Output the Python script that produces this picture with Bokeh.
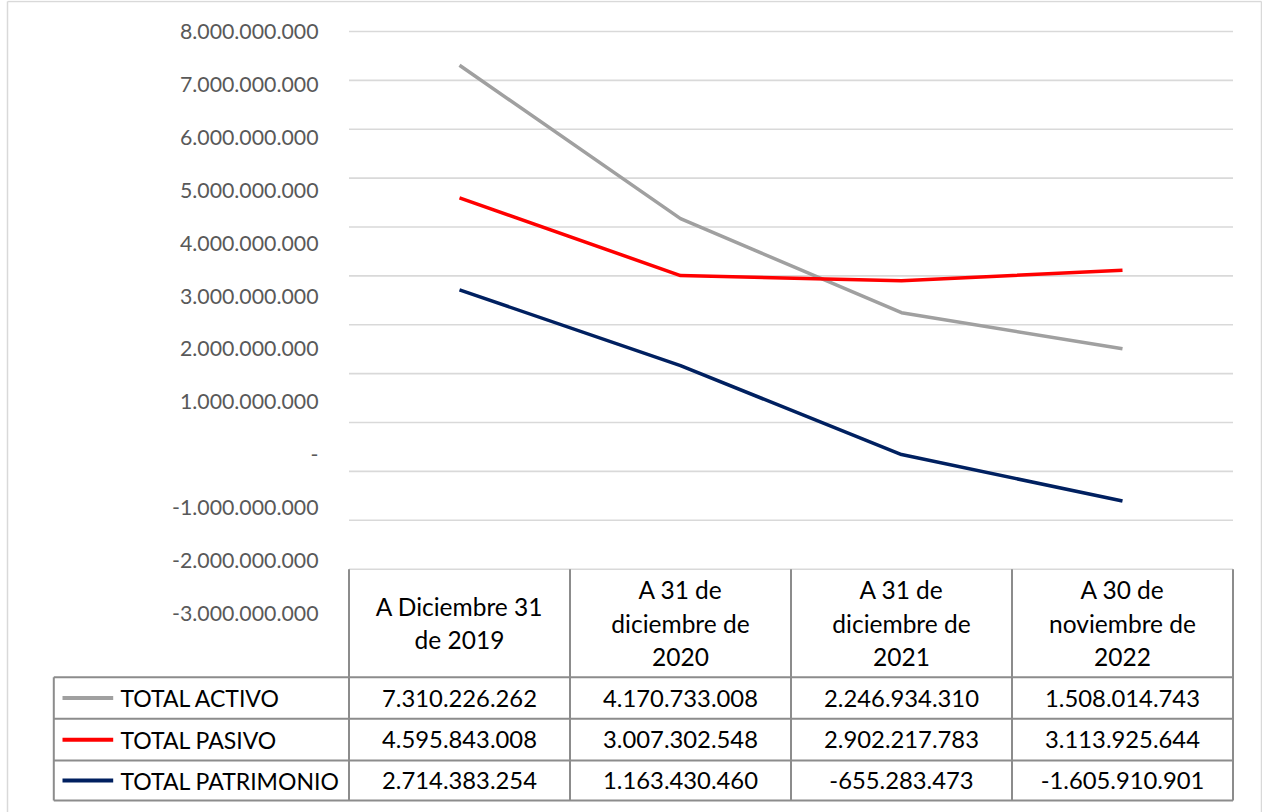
from bokeh.plotting import figure
from bokeh.models import Range1d
from bokeh.core.properties import value
from bokeh.embed import file_html
from bokeh.resources import INLINE

# ---------------- data ----------------
categories = [
    "A Diciembre 31\nde 2019",
    "A 31 de\ndiciembre de\n2020",
    "A 31 de\ndiciembre de\n2021",
    "A 30 de\nnoviembre de\n2022",
]
series_names = ["TOTAL ACTIVO", "TOTAL PASIVO", "TOTAL PATRIMONIO"]
total_activo = [7310226262, 4170733008, 2246934310, 1508014743]
total_pasivo = [4595843008, 3007302548, 2902217783, 3113925644]
total_patrimonio = [2714383254, 1163430460, -655283473, -1605910901]
y_ticks = [8e9, 7e9, 6e9, 5e9, 4e9, 3e9, 2e9, 1e9, 0, -1e9, -2e9, -3e9]
series_colors = ["#a0a0a0", "#ff0000", "#002060"]


def fmt(v):
    v = int(round(v))
    if v == 0:
        return "-"
    return "{:,}".format(v).replace(",", ".")


# ---------------- layout (page pixels) ----------------
W, H = 1262, 812
PX0, PY0 = 0, 0                      # page offset of the canvas
PLOT_L, COL_W = 348.5, 221.0         # plot area left edge and category width
GRID_TOP, GRID_STEP = 31.0, 48.88    # pixel of top tick, px per 1e9
LAB_TOP, LAB_STEP = 31.0, 52.9       # tick label positions
TAB_TOP = GRID_TOP + GRID_STEP * (len(y_ticks) - 1)
HEAD_BOT = 676.7
ROW_B = [HEAD_BOT, 718.3, 760.0, 800.0]
TAB_L = 53.3

xs = -(PLOT_L + COL_W / 2 - PX0) / COL_W
xe = xs + W / COL_W
ytop = y_ticks[0] + (GRID_TOP - PY0) / GRID_STEP * 1e9
ybot = y_ticks[0] - (PY0 + H - GRID_TOP) / GRID_STEP * 1e9

p = figure(width=W, height=H, x_range=Range1d(xs, xe), y_range=Range1d(ybot, ytop),
           x_axis_location=None, y_axis_location=None, toolbar_location=None,
           output_backend="svg", min_border=0)
p.outline_line_color = None
p.grid.visible = False
p.extra_x_ranges = {"px": Range1d(PX0, PX0 + W)}
p.extra_y_ranges = {"px": Range1d(PY0 + H, PY0)}

ncat = len(categories)
xi = list(range(ncat))

# outer chart border
p.segment(x0=[7, 1261, 7], x1=[7, 1261, 1261], y0=[1, 1, 1], y1=[812, 812, 1],
          x_range_name="px", y_range_name="px", line_color="#d9d9d9", line_width=1.5)

# gridlines
p.segment(x0=[-0.5] * len(y_ticks), x1=[ncat - 0.5] * len(y_ticks), y0=y_ticks, y1=y_ticks,
          line_color="#d9d9d9", line_width=1.6)

# tick labels
lab_y = [LAB_TOP + LAB_STEP * i for i in range(len(y_ticks))]
p.text(x=[318] * len(y_ticks), y=lab_y, text=[fmt(v) for v in y_ticks],
       x_range_name="px", y_range_name="px", text_align="right", text_baseline="middle",
       text_font=value("Lato"), text_font_size="21.3px", text_color="#595959")

# series lines
all_series = [total_activo, total_pasivo, total_patrimonio]
for vals, col in zip(all_series, series_colors):
    p.line(x=xi, y=vals, line_color=col, line_width=3.5)

# table borders
bcol, bw = "#8c8c8c", 2
vx = [j - 0.5 for j in range(ncat + 1)]
p.segment(x0=vx, x1=vx, y0=[TAB_TOP] * len(vx), y1=[ROW_B[-1]] * len(vx),
          y_range_name="px", line_color=bcol, line_width=bw)
p.segment(x0=[TAB_L] * len(ROW_B), x1=[PLOT_L + COL_W * ncat] * len(ROW_B), y0=ROW_B, y1=ROW_B,
          x_range_name="px", y_range_name="px", line_color=bcol, line_width=bw)
p.segment(x0=[TAB_L], x1=[TAB_L], y0=[ROW_B[0]], y1=[ROW_B[-1]],
          x_range_name="px", y_range_name="px", line_color=bcol, line_width=bw)

# header texts
p.text(x=xi, y=[(TAB_TOP + HEAD_BOT) / 2] * ncat, text=categories, y_range_name="px",
       text_align="center", text_baseline="middle", text_font=value("Lato"),
       text_font_size="24.5px", text_line_height=1.15, text_color="#000000")

# rows
row_c = [(ROW_B[k] + ROW_B[k + 1]) / 2 for k in range(len(series_names))]
for k, (name, vals, col) in enumerate(zip(series_names, all_series, series_colors)):
    p.segment(x0=[62], x1=[112.7], y0=[row_c[k]], y1=[row_c[k]], x_range_name="px",
              y_range_name="px", line_color=col, line_width=4)
    p.text(x=[120], y=[row_c[k]], text=[name], x_range_name="px", y_range_name="px",
           text_align="left", text_baseline="middle", text_font=value("Lato"),
           text_font_size="23px", text_color="#000000")
    p.text(x=xi, y=[row_c[k]] * ncat, text=[fmt(v) for v in vals], y_range_name="px",
           text_align="center", text_baseline="middle", text_font=value("Lato"),
           text_font_size="23.8px", text_color="#000000")

open("out.html", "w").write(file_html(p, INLINE))
